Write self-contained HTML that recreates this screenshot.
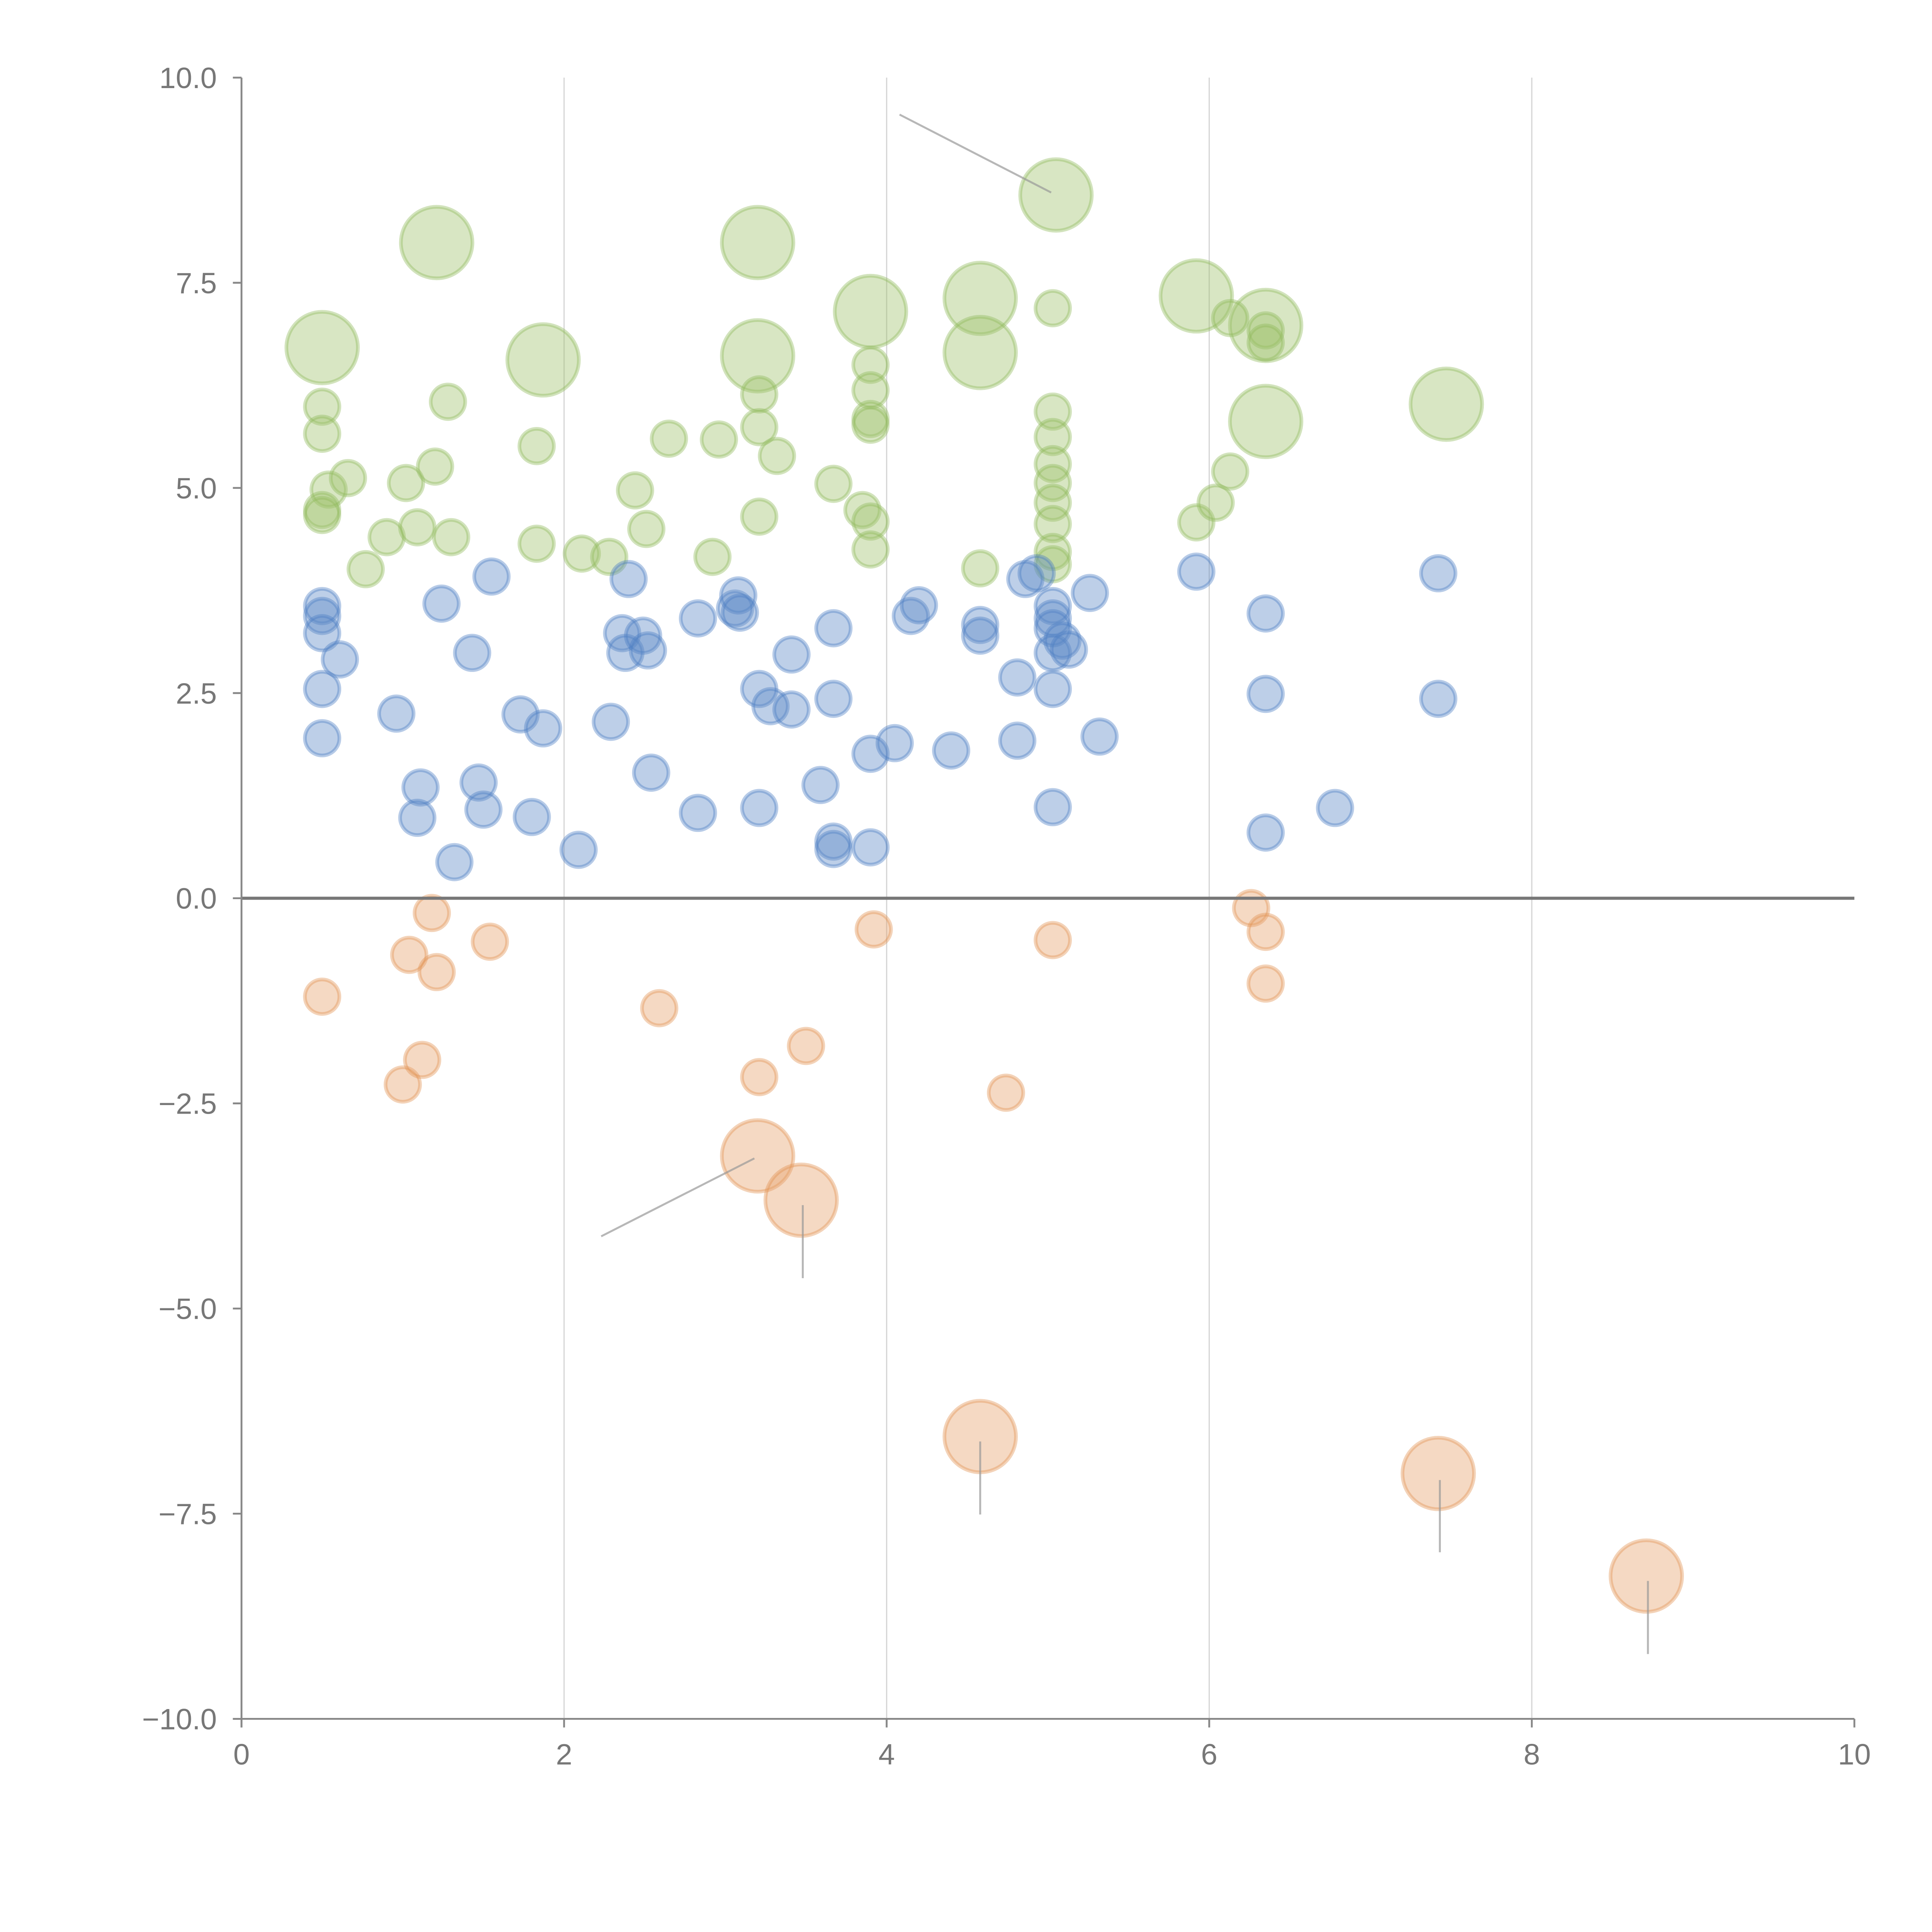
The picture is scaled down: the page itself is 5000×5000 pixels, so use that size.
<!DOCTYPE html>
<html><head><meta charset="utf-8"><style>
html,body{margin:0;padding:0;background:#fff;}
svg{display:block;}
text{font-family:"Liberation Sans",sans-serif;fill:#777;font-size:24px;}
</style></head><body>
<svg id="chart" width="5000" height="5000" viewBox="0 0 1568 1568" xmlns="http://www.w3.org/2000/svg">
<g id="grid"></g>
<g id="bubbles"></g>
<g id="annots"></g>
<g id="axes"></g>
</svg>
<script>
const xTicks = [0, 2, 4, 6, 8, 10];
const yTicks = [-10, -7.5, -5, -2.5, 0, 2.5, 5, 7.5, 10];
const yTickLabels = ["\u221210.0","\u22127.5","\u22125.0","\u22122.5","0.0","2.5","5.0","7.5","10.0"];
// [x, y, size]  size 1 = small, 4.3 = large
const greenSeries = [
[0.50,6.71,4.3],[1.21,7.99,4.3],[1.87,6.56,4.3],[3.20,7.99,4.3],[3.20,6.61,4.3],[3.90,7.15,4.3],[4.58,7.31,4.3],[4.58,6.65,4.3],[5.05,8.57,4.3],[5.92,7.34,4.3],[6.35,6.98,4.3],[6.35,5.81,4.3],[7.47,6.02,4.3],
[0.50,5.99,1],[0.50,5.66,1],[0.54,4.98,1],[0.66,5.12,1],[0.50,4.73,1],[0.50,4.67,1],[0.77,4.01,1],[0.90,4.40,1],[1.02,5.06,1],[1.09,4.52,1],[1.20,5.26,1],[1.28,6.05,1],[1.30,4.40,1],[1.83,5.51,1],[1.83,4.32,1],[2.11,4.20,1],[2.28,4.16,1],[2.44,4.97,1],[2.51,4.50,1],[2.65,5.60,1],[2.92,4.16,1],[2.96,5.59,1],[3.21,6.14,1],[3.21,5.74,1],[3.21,4.65,1],[3.32,5.39,1],[3.67,5.05,1],[3.85,4.73,1],[3.90,6.50,1],[3.90,6.19,1],[3.90,5.84,1],[3.90,5.77,1],[3.90,4.59,1],[3.90,4.25,1],[4.58,4.02,1],[5.03,7.19,1],[5.03,5.93,1],[5.03,5.62,1],[5.03,5.29,1],[5.03,5.06,1],[5.03,4.82,1],[5.03,4.56,1],[5.03,4.22,1],[5.03,4.07,1],[5.92,4.58,1],[6.04,4.82,1],[6.13,5.20,1],[6.13,7.07,1],[6.35,6.92,1],[6.35,6.77,1]
];
const blueSeries = [
[0.50,3.56,1],[0.50,3.44,1],[0.50,3.23,1],[0.50,2.55,1],[0.50,1.95,1],[0.61,2.91,1],[0.96,2.25,1],[1.11,1.35,1],[1.09,0.98,1],[1.24,3.59,1],[1.32,0.44,1],[1.43,2.99,1],[1.47,1.41,1],[1.50,1.08,1],[1.55,3.92,1],[1.73,2.24,1],[1.80,0.99,1],[1.87,2.07,1],[2.09,0.59,1],[2.29,2.15,1],[2.36,3.23,1],[2.38,2.99,1],[2.40,3.89,1],[2.49,3.20,1],[2.52,3.02,1],[2.54,1.53,1],[2.83,3.41,1],[2.83,1.04,1],[3.06,3.53,1],[3.08,3.69,1],[3.09,3.48,1],[3.21,2.55,1],[3.21,1.10,1],[3.28,2.34,1],[3.41,2.30,1],[3.41,2.97,1],[3.59,1.38,1],[3.67,3.29,1],[3.67,2.43,1],[3.67,0.69,1],[3.67,0.60,1],[3.90,1.76,1],[3.90,0.62,1],[4.05,1.89,1],[4.15,3.44,1],[4.20,3.57,1],[4.40,1.80,1],[4.58,3.33,1],[4.58,3.20,1],[4.81,1.92,1],[4.81,2.69,1],[4.86,3.89,1],[4.93,3.96,1],[5.03,3.56,1],[5.03,3.41,1],[5.03,3.29,1],[5.03,2.99,1],[5.03,2.55,1],[5.03,1.11,1],[5.09,3.14,1],[5.13,3.03,1],[5.26,3.72,1],[5.32,1.97,1],[5.92,3.98,1],[6.35,3.47,1],[6.35,2.49,1],[6.35,0.80,1],[6.78,1.10,1],[7.42,3.96,1],[7.42,2.43,1]
];
const orangeSeries = [
[0.50,-1.20,1],[1.00,-2.27,1],[1.04,-0.69,1],[1.12,-1.97,1],[1.18,-0.18,1],[1.21,-0.90,1],[1.54,-0.53,1],[2.59,-1.34,1],[3.21,-2.18,1],[3.50,-1.80,1],[3.92,-0.38,1],[4.74,-2.37,1],[5.03,-0.51,1],[6.26,-0.12,1],[6.35,-0.41,1],[6.35,-1.04,1],
[3.20,-3.14,4.3],[3.47,-3.68,4.3],[4.58,-6.56,4.3],[7.42,-7.01,4.3],[8.71,-8.26,4.3]
];
// annotation leader lines [x1,y1,x2,y2]
const leaderLines = [
[4.08,9.55,5.02,8.60],[3.18,-3.17,2.23,-4.12],[3.48,-3.74,3.48,-4.63],[4.58,-6.62,4.58,-7.51],[7.43,-7.09,7.43,-7.97],[8.72,-8.32,8.72,-9.21]
];
const X0=196, X1=1505, Y0=1395, Y1=63;
function sx(v){return X0+(v-0)/(10-0)*(X1-X0);}
function sy(v){return Y0-(v+10)/20*(Y0-Y1);}
const NS="http://www.w3.org/2000/svg";
function mk(tag,attrs,parent){const e=document.createElementNS(NS,tag);for(const k in attrs)e.setAttribute(k,attrs[k]);parent.appendChild(e);return e;}
const grid=document.getElementById('grid'),bub=document.getElementById('bubbles'),ann=document.getElementById('annots'),axes=document.getElementById('axes');
xTicks.forEach(t=>{if(t>0&&t<10){const l=mk('line',{x1:sx(t),x2:sx(t),y1:Y1,y2:Y0,stroke:'#d6d6d6','stroke-width':1},grid);

}});
function drawSeries(arr,fill,stroke,name){arr.forEach(d=>{const c=mk('circle',{cx:sx(d[0]),cy:sy(d[1]),r:14*Math.sqrt(d[2]),fill:fill,'fill-opacity':0.4,stroke:stroke,'stroke-opacity':0.4,'stroke-width':3},bub);

});}
drawSeries(greenSeries,'#9dc16a','#8fb85a','green-bubble');
drawSeries(blueSeries,'#5a86c6','#4a7cc2','blue-bubble');
drawSeries(orangeSeries,'#e6a06a','#e0924f','orange-bubble');
leaderLines.forEach(d=>{const l=mk('line',{x1:sx(d[0]),y1:sy(d[1]),x2:sx(d[2]),y2:sy(d[3]),stroke:'#999','stroke-opacity':0.7,'stroke-width':1.6},ann);

});
const z=mk('line',{x1:X0,x2:X1,y1:sy(0),y2:sy(0),stroke:'#777','stroke-width':2.5},axes);


const ya=mk('line',{x1:X0,x2:X0,y1:Y1,y2:Y0+7,stroke:'#888','stroke-width':1.5},axes);


const xa=mk('line',{x1:X0-7,x2:X1,y1:Y0,y2:Y0,stroke:'#888','stroke-width':1.5},axes);


yTicks.forEach((t,i)=>{mk('line',{x1:X0-7,x2:X0,y1:sy(t),y2:sy(t),stroke:'#888','stroke-width':1.5},axes);
const tx=mk('text',{x:X0-20,y:sy(t)+8.5,'text-anchor':'end'},axes);tx.textContent=yTickLabels[i];

});
xTicks.forEach(t=>{mk('line',{x1:sx(t),x2:sx(t),y1:Y0,y2:Y0+7,stroke:'#888','stroke-width':1.5},axes);
const tx=mk('text',{x:sx(t),y:Y0+37,'text-anchor':'middle'},axes);tx.textContent=String(t);

});
</script>
</body></html>
